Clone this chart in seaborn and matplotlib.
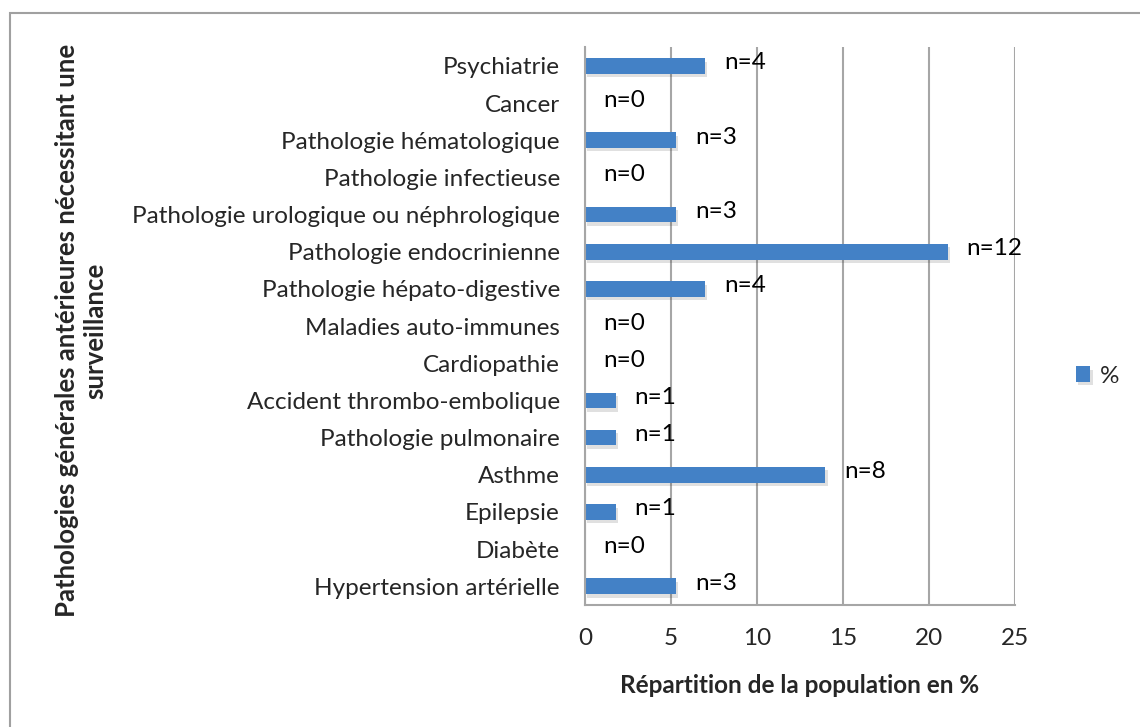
import numpy as np
import pandas as pd
import matplotlib
matplotlib.use("Agg")
import matplotlib.pyplot as plt
import matplotlib.patheffects as pe
from matplotlib.patches import Rectangle
from matplotlib.ticker import FixedLocator
import seaborn as sns

# ## Data ## #
categories = ["Psychiatrie", "Cancer", "Pathologie hématologique", "Pathologie infectieuse",
              "Pathologie urologique ou néphrologique", "Pathologie endocrinienne",
              "Pathologie hépato-digestive", "Maladies auto-immunes", "Cardiopathie",
              "Accident thrombo-embolique", "Pathologie pulmonaire", "Asthme", "Epilepsie",
              "Diabète", "Hypertension artérielle"]
percent = [7.0, 0, 5.3, 0, 5.3, 21.1, 7.0, 0, 0, 1.8, 1.8, 14.0, 1.8, 0, 5.3]
counts = [4, 0, 3, 0, 3, 12, 4, 0, 0, 1, 1, 8, 1, 0, 3]

df = pd.DataFrame({"categorie": categories, "pct": percent, "n": counts})

# ## Style ## #
sns.set_style("white")
plt.rcParams["font.family"] = ["Lato", "DejaVu Sans"]

bar_color = "#4381C6"
grid_color = "#A6A6A6"
fs = 17.5

fig = plt.figure(figsize=(11.4, 7.27), dpi=100)
ax = fig.add_axes([0.513, 0.168, 0.377, 0.767])

sns.barplot(data=df, x="pct", y="categorie", orient="h", color=bar_color,
            width=0.42, saturation=1, ax=ax, label="%")

# soft shadow under the bars
for p in ax.patches:
    p.set_path_effects([pe.SimplePatchShadow(offset=(1.5, -2.5), alpha=0.15, shadow_rgbFace="#333333"),
                        pe.Normal()])
    p.set_edgecolor("none")

# labels n=...
for i, (v, n) in enumerate(zip(percent, counts)):
    ax.text(v + 1.1, i - 0.08, f"n={n}", va="center", ha="left", fontsize=fs, color="black")

ax.set_xlim(0, 25)
ax.set_ylim(14.5, -0.5)
ax.set_xticks([0, 5, 10, 15, 20, 25])
ax.xaxis.grid(True, color=grid_color, linewidth=1.5)
ax.set_axisbelow(True)

for s in ["top", "right"]:
    ax.spines[s].set_visible(False)
for s in ["left", "bottom"]:
    ax.spines[s].set_color(grid_color)
    ax.spines[s].set_linewidth(1.5)

ax.tick_params(axis="x", length=8, width=1.5, color=grid_color, labelsize=fs, pad=9)
ax.tick_params(axis="y", which="major", length=0, labelsize=fs, pad=18)
ax.yaxis.set_minor_locator(FixedLocator(np.arange(-0.5, 15, 1)))
ax.tick_params(axis="y", which="minor", length=7, width=1.5, color=grid_color)

ax.set_ylabel("")
ax.set_xlabel("Répartition de la population en %", fontsize=fs, fontweight="bold", labelpad=18)

fig.text(0.071, 0.545, "Pathologies générales antérieures nécessitant une\nsurveillance",
         rotation=90, ha="center", va="center", fontsize=18.5, fontweight="bold",
         multialignment="center", linespacing=1.2)

# legend
ax.legend(loc="center left", bbox_to_anchor=(1.12, 0.41), frameon=False, fontsize=fs,
          handlelength=0.6, handleheight=0.6, handletextpad=0.4, borderaxespad=0)

# outer frame
fig.patches.append(Rectangle((0.009, -0.05), 1.2, 1.032, transform=fig.transFigure,
                             fill=False, edgecolor="#A0A0A0", linewidth=1.5))

fig.savefig("out.png", dpi=100)
